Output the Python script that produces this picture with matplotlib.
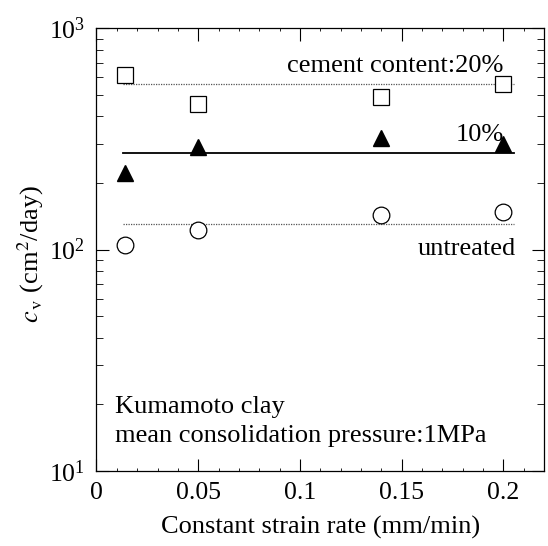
import matplotlib
matplotlib.use("Agg")
import matplotlib.pyplot as plt
from matplotlib.ticker import MultipleLocator, LogLocator

plt.rcParams['font.family'] = ['Liberation Serif', 'DejaVu Serif']
plt.rcParams['mathtext.fontset'] = 'stix'

# strain rate (mm/min)
rate = [0.014, 0.05, 0.14, 0.2]

# cv (cm2/day) for each mix
cv_20 = [615, 453, 491, 560]
cv_10 = [222, 291, 321, 300]
cv_0 = [105, 122, 144, 148]

# mean levels drawn as horizontal lines
mean_20 = 558
mean_10 = 273
mean_0 = 130
line_x = [0.013, 0.205]

fig = plt.figure(figsize=(5.48, 5.46), dpi=100)
ax = fig.add_axes([0.176, 0.138, 0.817, 0.810])

# average lines
ax.plot(line_x, [mean_20, mean_20], color='#555555', lw=0.9, ls=(0, (1, 1)))
ax.plot(line_x, [mean_10, mean_10], color='black', lw=1.3)
ax.plot(line_x, [mean_0, mean_0], color='#555555', lw=0.9, ls=(0, (1, 1)))

# data points
ax.plot(rate, cv_20, ls='none', marker='s', ms=12, mfc='white', mec='black', mew=0.9)
ax.plot(rate, cv_10, ls='none', marker='^', ms=12, mfc='black', mec='black')
ax.plot(rate, cv_0, ls='none', marker='o', ms=12, mfc='white', mec='black', mew=0.9)

ax.set_yscale('log')
ax.set_xlim(0, 0.22)
ax.set_ylim(10, 1000)

ax.xaxis.set_minor_locator(MultipleLocator(0.01))
ax.set_xticks([0, 0.05, 0.1, 0.15, 0.2])
ax.set_xticklabels(['0', '0.05', '0.1', '0.15', '0.2'])
ax.yaxis.set_major_locator(LogLocator(base=10))
ax.yaxis.set_minor_locator(LogLocator(base=10, subs=range(2, 10)))

ax.tick_params(which='both', direction='in', top=True, right=True, labelsize=18.5, pad=8)
ax.tick_params(which='major', length=9, width=0.8)
ax.tick_params(which='minor', length=5, width=0.6)
ax.tick_params(axis='x', which='minor', length=2)
for s in ax.spines.values():
    s.set_linewidth(0.9)

ax.set_xlabel('Constant strain rate (mm/min)', fontsize=19, labelpad=9)
ax.set_ylabel(r'$c_{\,\mathrm{v}}$ (cm$^2$/day)', fontsize=19)
ax.yaxis.set_label_coords(-0.112, 0.49)

# series labels
ax.text(0.2, 676, 'cement content:20%', fontsize=19, ha='right', va='center')
ax.text(0.2, 331, '10%', fontsize=19, ha='right', va='center')
ax.text(0.206, 101, 'untreated', fontsize=19, ha='right', va='center')

ax.text(0.009, 19.5, 'Kumamoto clay', fontsize=19, ha='left', va='center')
ax.text(0.009, 14.3, 'mean consolidation pressure:1MPa', fontsize=19, ha='left', va='center')

fig.savefig('out.png', dpi=100)
